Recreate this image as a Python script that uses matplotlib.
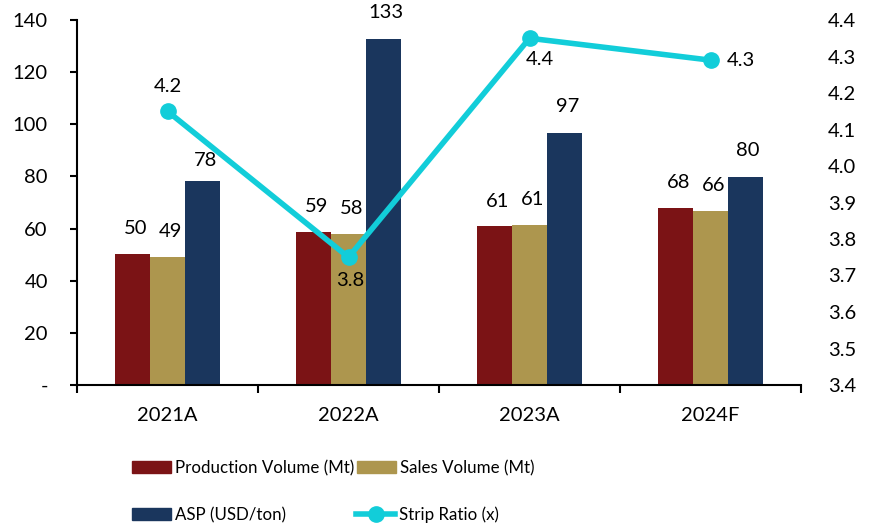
import matplotlib
matplotlib.use("Agg")
import matplotlib.pyplot as plt
import numpy as np
from matplotlib.lines import Line2D
from matplotlib.patches import Patch

categories = ["2021A", "2022A", "2023A", "2024F"]
production = [50.3, 58.7, 60.8, 67.8]
sales = [49.2, 58.0, 61.2, 66.6]
asp = [78.2, 132.8, 96.5, 79.6]
strip = [4.15, 3.75, 4.35, 4.29]
prod_labels = ["50", "59", "61", "68"]
sales_labels = ["49", "58", "61", "66"]
asp_labels = ["78", "133", "97", "80"]
strip_labels = ["4.2", "3.8", "4.4", "4.3"]
left_ticks = [0, 20, 40, 60, 80, 100, 120, 140]
left_ticklabels = ["-", "20", "40", "60", "80", "100", "120", "140"]
right_ticks = [3.4, 3.5, 3.6, 3.7, 3.8, 3.9, 4.0, 4.1, 4.2, 4.3, 4.4]

c_prod = "#7B1315"
c_sales = "#AD964E"
c_asp = "#1A365D"
c_strip = "#12CDD9"

plt.rcParams['font.family'] = ['Lato', 'DejaVu Sans']
fs = 14.5
lfs = 12.2

W, H = 875, 526
fig = plt.figure(figsize=(W / 100, H / 100), dpi=100)
ax = fig.add_axes([77 / W, 1 - 385 / H, (801 - 77) / W, (385 - 20) / H])
ax2 = ax.twinx()

x = np.arange(len(categories))
w = 0.193
ax.bar(x - w, production, w, color=c_prod, zorder=2)
ax.bar(x, sales, w, color=c_sales, zorder=2)
ax.bar(x + w, asp, w, color=c_asp, zorder=2)

asp_off = [4.5, 7, 7, 7]
for i in range(len(categories)):
    ax.text(x[i] - w + 0.015, production[i] + 6.5, prod_labels[i], ha="center", va="bottom", fontsize=fs)
    ax.text(x[i] + 0.015, sales[i] + 6.5, sales_labels[i], ha="center", va="bottom", fontsize=fs)
    ax.text(x[i] + w + 0.015, asp[i] + asp_off[i], asp_labels[i], ha="center", va="bottom", fontsize=fs)

ax.set_xlim(-0.5, 3.5)
ax.set_ylim(0, 140)
ax.set_yticks(left_ticks)
ax.set_yticklabels(left_ticklabels, fontsize=fs)
ax.set_xticks(x)
ax.set_xticklabels(categories, fontsize=fs)
ax.set_xticks([-0.5, 0.5, 1.5, 2.5, 3.5], minor=True)
ax.tick_params(axis='x', which='major', length=0, pad=16)
ax.tick_params(axis='x', which='minor', length=5.5, width=1.5, direction='out')
ax.tick_params(axis='y', length=5, width=1.5, direction='out', pad=16)
for s in ["top", "right"]:
    ax.spines[s].set_visible(False)
ax.spines["left"].set_linewidth(1.5)
ax.spines["bottom"].set_linewidth(1.5)

ax2.plot(x, strip, color=c_strip, lw=4, marker="o", ms=11, zorder=5)
ax2.set_ylim(3.4, 4.4)
ax2.set_yticks(right_ticks)
ax2.set_yticklabels([f"{t:.1f}" for t in right_ticks], fontsize=fs)
ax2.tick_params(axis='y', length=0, pad=19.5)
for s in ["top", "right", "left", "bottom"]:
    ax2.spines[s].set_visible(False)

offsets = [(0, 0.045, "center", "bottom"), (0.01, -0.04, "center", "top"),
           (0.06, -0.035, "center", "top"), (0.09, 0.0, "left", "center")]
for i, (dx, dy, ha, va) in enumerate(offsets):
    ax2.text(x[i] + dx, strip[i] + dy, strip_labels[i], ha=ha, va=va, fontsize=fs, zorder=6)

entries = [
    (Patch(color=c_prod), "Production Volume (Mt)", 132, 468),
    (Patch(color=c_sales), "Sales Volume (Mt)", 357, 468),
    (Patch(color=c_asp), "ASP (USD/ton)", 132, 515),
    (Line2D([0], [0], color=c_strip, lw=4, marker="o", ms=11), "Strip Ratio (x)", 356, 515),
]
lpx = lfs * 100 / 72
for h, lab, px, py in entries:
    fig.legend([h], [lab], loc="center left", bbox_to_anchor=(px / W, 1 - py / H),
               frameon=False, fontsize=lfs,
               handlelength=39 / lpx, handleheight=13 / lpx,
               handletextpad=4 / lpx, borderpad=0, borderaxespad=0)

fig.savefig("out.png", dpi=100)
